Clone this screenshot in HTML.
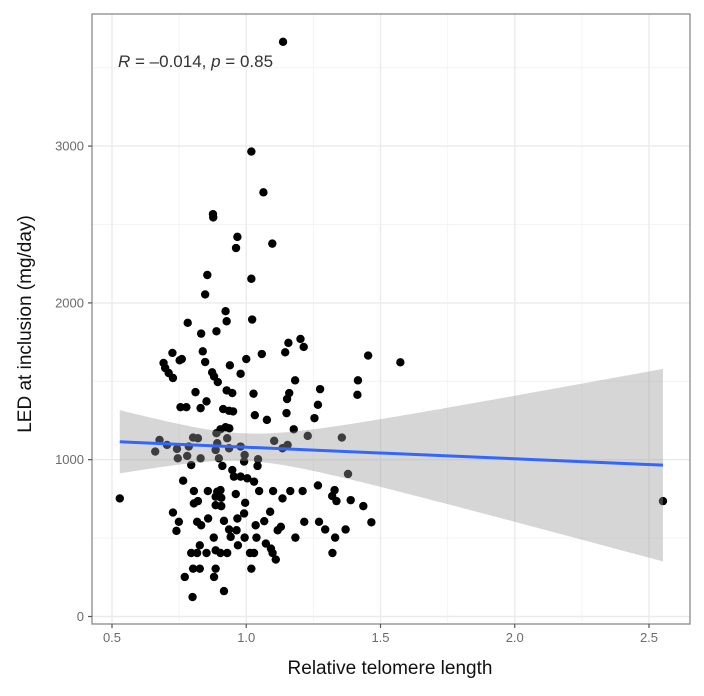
<!DOCTYPE html>
<html><head><meta charset="utf-8">
<style>
html,body{margin:0;padding:0;background:#fff;}
svg{display:block;font-family:"Liberation Sans",Arial,sans-serif;}
</style></head>
<body>
<svg id="chart" width="704" height="696" viewBox="0 0 704 696" xmlns="http://www.w3.org/2000/svg"></svg>
<script>
const telomere = [1.137,1.019,1.064,0.876,0.877,0.967,0.962,1.097,0.855,1.019,0.847,0.923,0.927,1.022,0.782,0.832,0.889,
1.157,1.202,1.214,0.725,0.76,0.752,0.838,0.847,0.692,0.698,0.711,0.727,1.0,1.058,1.145,0.939,0.979,0.873,0.88,0.894,1.182,
1.454,1.574,1.416,1.414,0.811,0.852,0.927,0.948,1.027,1.16,1.152,1.275,1.267,0.755,0.777,0.83,0.914,0.936,0.951,1.032,1.077,
1.15,1.254,1.177,1.229,0.889,0.904,0.923,0.937,0.677,0.705,0.661,0.742,0.745,0.786,0.78,0.802,0.82,0.83,0.795,0.892,0.886,
0.898,0.911,0.929,0.936,0.979,0.994,0.992,1.044,1.042,1.104,1.135,1.154,1.356,1.379,0.765,0.948,0.954,0.979,1.004,1.029,
0.805,0.857,0.892,0.904,0.886,0.907,0.961,1.048,1.1,1.135,1.164,1.21,1.267,1.329,1.32,1.336,1.389,1.436,1.466,0.529,0.805,
0.82,0.886,0.907,0.996,0.727,0.749,0.74,0.817,0.832,0.858,0.917,0.967,0.992,0.936,0.964,0.942,0.879,0.994,1.035,1.067,1.089,
1.117,1.129,1.038,0.969,1.183,1.216,1.271,1.294,1.331,1.37,0.827,0.795,0.817,0.852,0.886,0.904,0.929,1.014,1.029,1.073,1.092,
1.098,1.11,1.321,0.802,0.827,0.886,0.88,1.019,0.771,0.917,0.8,2.552];
const led = [3665,2965,2705,2566,2545,2421,2350,2378,2178,2154,2054,1947,1883,1894,1873,1804,1819,
1745,1770,1719,1681,1642,1634,1691,1623,1617,1585,1553,1521,1642,1674,1685,1602,1548,1557,1531,1495,1506,
1664,1621,1506,1414,1431,1372,1442,1425,1421,1425,1387,1450,1350,1335,1335,1329,1323,1312,1308,1284,1254,
1297,1265,1194,1152,1169,1194,1207,1200,1126,1094,1052,1069,1009,1084,1024,1141,1137,1009,966,1105,1062,
1009,960,1137,1073,1084,1030,988,1003,960,1120,1073,1094,1141,909,866,934,892,892,881,860,
800,800,796,806,764,757,781,800,800,753,800,800,836,806,768,736,742,704,601,753,721,
736,710,704,725,663,604,546,604,582,625,610,625,657,555,550,508,503,503,582,608,668,
550,572,503,454,503,604,604,555,503,555,454,405,405,405,422,405,405,405,405,465,433,
405,363,405,305,305,305,252,305,252,162,124,736];
const xTicks = [0.5,1.0,1.5,2.0,2.5];
const xTickLabels = ["0.5","1.0","1.5","2.0","2.5"];
const yTicks = [0,1000,2000,3000];
const yTickLabels = ["0","1000","2000","3000"];
const xMinor = [0.75,1.25,1.75,2.25];
const yMinor = [500,1500,2500,3500];
const annotationR = "-0.014";
const annotationP = "0.85";

const NS="http://www.w3.org/2000/svg";
const svg=document.getElementById('chart');
const L=92,R=690,T=14,B=624;
const xs=v=>112+(v-0.5)*268.5;
const ys=v=>616.5-v*0.1568;
function mk(tag,attrs,parent){const e=document.createElementNS(NS,tag);for(const k in attrs)e.setAttribute(k,attrs[k]);(parent||svg).appendChild(e);return e;}

const grid=mk('g',{});


xMinor.forEach(v=>mk('line',{x1:xs(v),x2:xs(v),y1:T,y2:B,stroke:'#f4f4f4','stroke-width':1},grid));
yMinor.forEach(v=>{if(ys(v)>T)mk('line',{x1:L,x2:R,y1:ys(v),y2:ys(v),stroke:'#f4f4f4','stroke-width':1},grid);});
xTicks.forEach(v=>mk('line',{x1:xs(v),x2:xs(v),y1:T,y2:B,stroke:'#ebebeb','stroke-width':1.4},grid));
yTicks.forEach(v=>mk('line',{x1:L,x2:R,y1:ys(v),y2:ys(v),stroke:'#ebebeb','stroke-width':1.4},grid));

const pts=mk('g',{});


telomere.forEach((x,i)=>{
  const c=mk('circle',{cx:xs(x),cy:ys(led[i]),r:4.2,fill:'#000'},pts);
  
  
});

// linear regression with 95% CI
const n=telomere.length;
const mx=telomere.reduce((a,b)=>a+b,0)/n, my=led.reduce((a,b)=>a+b,0)/n;
let sxx=0,sxy=0;for(let i=0;i<n;i++){sxx+=(telomere[i]-mx)**2;sxy+=(telomere[i]-mx)*(led[i]-my);}
const slope=sxy/sxx, icpt=my-slope*mx;
let sse=0;for(let i=0;i<n;i++){sse+=(led[i]-icpt-slope*telomere[i])**2;}
const s=Math.sqrt(sse/(n-2)), tq=1.97;
const xmin=Math.min(...telomere), xmax=Math.max(...telomere);
const up=[],lo=[];
for(let k=0;k<=80;k++){const x=xmin+(xmax-xmin)*k/80;const f=icpt+slope*x;const h=tq*s*Math.sqrt(1/n+(x-mx)**2/sxx);up.push([xs(x),ys(f+h)]);lo.push([xs(x),ys(f-h)]);}
const band=mk('path',{d:'M'+up.map(p=>p.join(',')).join('L')+'L'+lo.reverse().map(p=>p.join(',')).join('L')+'Z',fill:'#999999','fill-opacity':0.4});


const line=mk('line',{x1:xs(xmin),y1:ys(icpt+slope*xmin),x2:xs(xmax),y2:ys(icpt+slope*xmax),stroke:'#3366ff','stroke-width':3});



const border=mk('rect',{x:L,y:T,width:R-L,height:B-T,fill:'none',stroke:'#8a8a8a','stroke-width':1.3});



const xa=mk('g',{});


xTicks.forEach((v,i)=>{
  mk('line',{x1:xs(v),x2:xs(v),y1:B,y2:B+4,stroke:'#555','stroke-width':1.2},xa);
  const t=mk('text',{x:xs(v),y:B+18,'text-anchor':'middle','font-size':13,fill:'#6b6b6b'},xa);
  t.textContent=xTickLabels[i];
  
  
});
const ya=mk('g',{});


yTicks.forEach((v,i)=>{
  mk('line',{x1:L-4,x2:L,y1:ys(v),y2:ys(v),stroke:'#555','stroke-width':1.2},ya);
  const t=mk('text',{x:L-8,y:ys(v)+4.5,'text-anchor':'end','font-size':13,fill:'#6b6b6b'},ya);
  t.textContent=yTickLabels[i];
  
  
});
</script>
<svg style="position:absolute;left:0;top:0" width="704" height="696">
  <text x="390" y="674" text-anchor="middle" font-family="Liberation Sans, sans-serif" font-size="19" fill="#111">Relative telomere length</text>
  <text transform="translate(31,324) rotate(-90)" text-anchor="middle" font-family="Liberation Sans, sans-serif" font-size="19" fill="#111">LED at inclusion (mg/day)</text>
  <text x="118" y="67" font-family="Liberation Sans, sans-serif" font-size="17" fill="#333"><tspan font-style="italic">R</tspan> = –0.014, <tspan font-style="italic">p</tspan> = 0.85</text>
</svg>
</body></html>
